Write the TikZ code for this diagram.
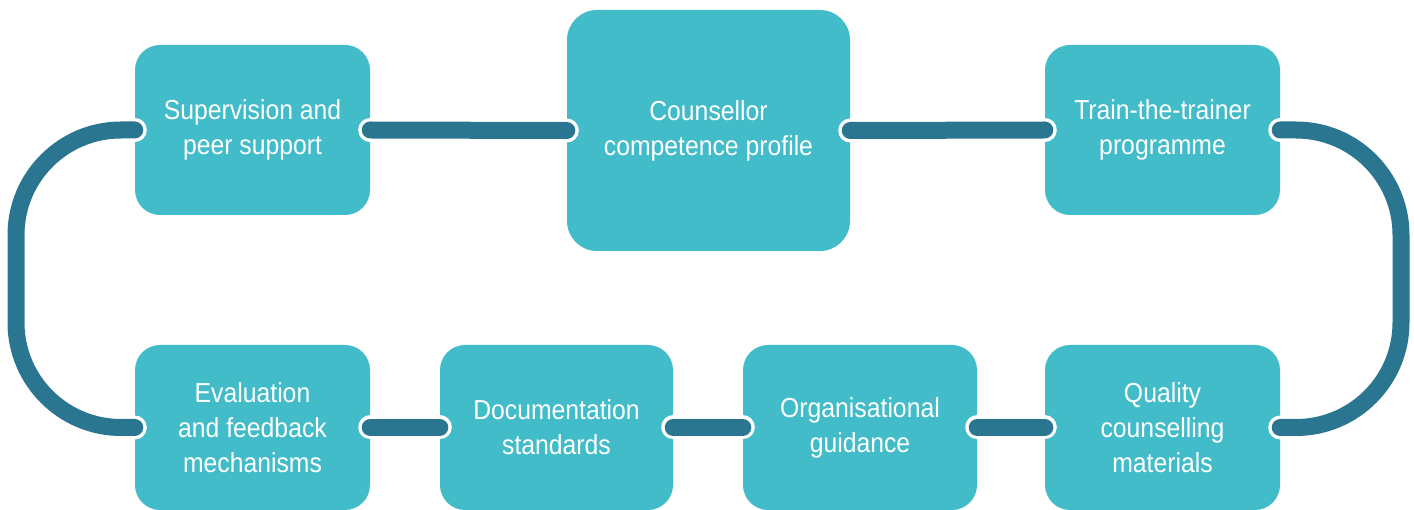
\documentclass[tikz,border=0pt]{standalone}
\usepackage{fontspec}
\setmainfont{Liberation Sans}[FakeStretch=0.9]
\definecolor{boxfill}{HTML}{42BCC9}
\definecolor{linkcol}{HTML}{2A7590}
\begin{document}
\begin{tikzpicture}[x=1pt,y=-1pt,
  stepbox/.style={fill=boxfill, rounded corners=25pt, text=white, align=center,
    font=\fontsize{27.5}{35}\selectfont, inner sep=0pt},
  link/.style={draw=linkcol, line width=17pt, line cap=round,
    preaction={draw=white, line width=24pt, line cap=round}},
]
\clip (0,0) rectangle (1414,510);
\useasboundingbox (0,0) rectangle (1414,510);
\node[stepbox, minimum width=235pt, minimum height=170pt] (sup) at (252.5,130) {Supervision and\\peer support};
\node[stepbox, minimum width=283pt, minimum height=241pt, rounded corners=30pt] (cou) at (708.5,130.5) {Counsellor\\competence profile};
\node[stepbox, minimum width=235pt, minimum height=170pt] (tra) at (1162.5,130) {Train-the-trainer\\programme};
\node[stepbox, minimum width=235pt, minimum height=165pt] (eva) at (252.5,427.5) {Evaluation\\and feedback\\mechanisms};
\node[stepbox, minimum width=233pt, minimum height=165pt] (doc) at (556.5,427.5) {Documentation\\standards};
\node[stepbox, minimum width=234pt, minimum height=165pt] (org) at (860,427.5) {Organisational\\guidance};
\node[stepbox, minimum width=235pt, minimum height=165pt] (qua) at (1162.5,427.5) {Quality\\counselling\\materials};
\coordinate (LT) at (16,130);
\coordinate (LB) at (16,427.5);
\coordinate (RT) at (1401,130);
\coordinate (RB) at (1401,427.5);
\draw[link] (sup.east) -- (cou.west);
\draw[link] (cou.east) -- (tra.west);
\draw[link, rounded corners=105pt] (tra.east) -- (RT) -- (RB) -- (qua.east);
\draw[link] (qua.west) -- (org.east);
\draw[link] (org.west) -- (doc.east);
\draw[link] (doc.west) -- (eva.east);
\draw[link, rounded corners=105pt] (eva.west) -- (LB) -- (LT) -- (sup.west);
\end{tikzpicture}
\end{document}
